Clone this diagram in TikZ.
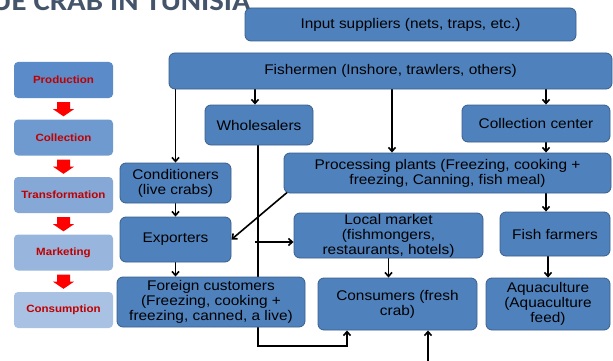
\documentclass[tikz,border=0pt]{standalone}
\usepackage{fontspec}
\setmainfont{Liberation Sans}[FakeStretch=1.1]
\newfontfamily\titlefont{Carlito}[FakeStretch=1.1]
\usetikzlibrary{arrows.meta,backgrounds,calc}
\definecolor{boxfill}{HTML}{4F81BD}
\definecolor{boxline}{HTML}{3A5F8B}
\definecolor{titlecol}{HTML}{44546A}
\definecolor{stA}{HTML}{5B8BC8}
\definecolor{stB}{HTML}{6E9ACF}
\definecolor{stC}{HTML}{85A8D6}
\definecolor{stD}{HTML}{98B5DD}
\definecolor{stE}{HTML}{A9C1E3}
\definecolor{stagetext}{HTML}{C00000}
\definecolor{arrred}{HTML}{FF0000}
\newcommand\stagearrow[2]{%
  \fill[arrred] ($(#1.south)+(-6.5,4)$) -- ($(#1.south)+(6.5,4)$) -- ($(#1.south)+(6.5,11)$) -- ($(#1.south)+(10.5,11)$) -- ($(#2.north)+(0,-3)$) -- ($(#1.south)+(-10.5,11)$) -- ($(#1.south)+(-6.5,11)$) -- cycle;}
\tikzset{
  box/.style={draw=boxline, line width=0.8pt, fill=boxfill, rounded corners=6pt, align=center, inner sep=0pt, text=black, font=\fontsize{14}{15}\selectfont},
  stage/.style={fill=#1, rounded corners=4pt, minimum width=99pt, minimum height=36pt, inner sep=0pt, text=stagetext, font=\bfseries\fontsize{10.5}{12}\selectfont},
  arr/.style={draw=black, line width=1.6pt, -{Straight Barb[length=4pt,width=7pt]}},
  plain/.style={draw=black, line width=1.6pt}
}
\begin{document}
\begin{tikzpicture}[x=1pt,y=-1pt]
\useasboundingbox (0,0) rectangle (613,361);
\clip (0,0) rectangle (613,361);
% title
\node[anchor=base east, inner sep=0pt, text=titlecol, font=\titlefont\bfseries\fontsize{28}{30}\selectfont] (title) at (251,11) {BLUE CRAB IN TUNISIA};
% stages
\node[stage=stA] (s1) at (63.5,80) {Production};
\node[stage=stB] (s2) at (63.5,137.5) {Collection};
\node[stage=stC] (s3) at (63.5,195) {Transformation};
\node[stage=stD] (s4) at (63.5,252.5) {Marketing};
\node[stage=stE] (s5) at (63.5,310) {Consumption};
\stagearrow{s1}{s2}
\stagearrow{s2}{s3}
\stagearrow{s3}{s4}
\stagearrow{s4}{s5}
% boxes
\node[box, minimum width=331pt, minimum height=33pt] (inp) at (410.5,24.5) {Input suppliers (nets, traps, etc.)};
\node[box, minimum width=443pt, minimum height=36pt] (fish) at (390.5,71) {Fishermen (Inshore, trawlers, others)};
\node[box, minimum width=108pt, minimum height=40pt] (whole) at (259,125) {Wholesalers};
\node[box, minimum width=148pt, minimum height=37pt] (coll) at (536,123.5) {Collection center};
\node[box, minimum width=111pt, minimum height=40pt] (cond) at (175.5,183) {Conditioners\\(live crabs)};
\node[box, minimum width=327pt, minimum height=40pt] (proc) at (447.5,173) {Processing plants (Freezing, cooking +\\freezing, Canning, fish meal)};
\node[box, minimum width=111pt, minimum height=45pt] (exp) at (175.5,239.5) {Exporters};
\node[box, minimum width=189pt, minimum height=45pt] (local) at (388.5,235.5) {Local market\\(fishmongers,\\restaurants, hotels)};
\node[box, minimum width=110pt, minimum height=44pt] (farm) at (555,234) {Fish farmers};
\node[box, minimum width=188pt, minimum height=50pt] (fore) at (211,302) {Foreign customers\\(Freezing, cooking +\\freezing, canned, a live)};
\node[box, minimum width=159pt, minimum height=52pt] (cons) at (397.5,304) {Consumers (fresh\\crab)};
\node[box, minimum width=124pt, minimum height=52pt] (aqua) at (548,304) {Aquaculture\\(Aquaculture\\feed)};
% helper coordinates
\coordinate (xw) at (255,0);
\coordinate (xp) at (392,0);
\coordinate (xc) at (546,0);
\coordinate (xv) at (258,0);
\coordinate (cb) at (347,346);
\coordinate (ha) at (255,242);
\coordinate (bt) at (428,361);
\coordinate (dg) at (290,190);
\begin{pgfonlayer}{background}
\draw[arr] (fish.south -| xw) -- (whole.north -| xw);
\draw[arr] (fish.south -| cond.north) -- (cond.north);
\draw[arr] (fish.south -| xp) -- (proc.north -| xp);
\draw[arr] (fish.south -| xc) -- (coll.north -| xc);
\draw[arr] (coll.south -| xc) -- (proc.north -| xc);
\draw[arr] (proc.south -| xc) -- (farm.north -| xc);
\draw[arr] (farm.south -| aqua.north) -- (aqua.north);
\draw[arr] (local.south) -- (local.south |- cons.north);
\draw[arr] (cond.south) -- (exp.north);
\draw[arr] (exp.south) -- (exp.south |- fore.north);
\draw[arr] (dg) -- (exp.east);
\draw[arr] (whole.south -| xv) |- (cb) -- (cb |- cons.south);
\draw[arr] (ha) -- (ha -| local.west);
\draw[arr] (bt) -- (bt |- cons.south);
\end{pgfonlayer}
\end{tikzpicture}
\end{document}
